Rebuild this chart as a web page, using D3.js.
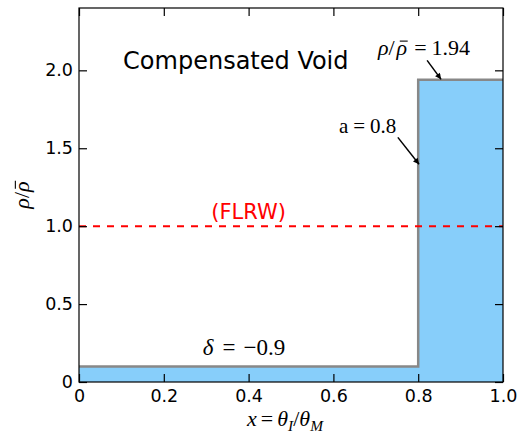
<!DOCTYPE html>
<html>
<head>
<meta charset="utf-8">
<script src="https://cdn.jsdelivr.net/npm/d3@7"></script>
<style>
  body { margin: 0; background: #fff; }
  text { font-family: "DejaVu Sans", sans-serif; }
  .math { font-family: "Liberation Serif", "DejaVu Serif", serif; }
</style>
</head>
<body>
<script>
const width = 521, height = 432;
const margin = {top: 8, right: 18, bottom: 50, left: 79};

// profile: density contrast per bin
const edges = [0, 0.8, 1.0];
const density = [0.1, 1.94];
const flrw = 1.0;
const xTicks = [0, 0.2, 0.4, 0.6, 0.8, 1.0];
const yTicks = [0, 0.5, 1.0, 1.5, 2.0];

const x = d3.scaleLinear().domain([0, 1]).range([margin.left, width - margin.right]);
const y = d3.scaleLinear().domain([0, 2.4]).range([height - margin.bottom, margin.top]);

const fmt = d => d === 0 ? "0" : d3.format(".1f")(d);

const svg = d3.select("body").append("svg")
    .attr("width", width).attr("height", height);

// step points
const pts = edges.map((e, i) => ({x: e, y: density[Math.min(i, density.length - 1)]}));

svg.append("path")
    .datum(pts)
    .attr("fill", "#87cefa")
    .attr("d", d3.area().curve(d3.curveStepAfter)
      .x(d => x(d.x)).y0(y(0)).y1(d => y(d.y)));

svg.append("path")
    .datum(pts)
    .attr("fill", "none")
    .attr("stroke", "#888")
    .attr("stroke-width", 2.5)
    .attr("d", d3.line().curve(d3.curveStepAfter).x(d => x(d.x)).y(d => y(d.y)));

// FLRW reference
svg.append("line")
    .attr("x1", x(0)).attr("x2", x(1))
    .attr("y1", y(flrw)).attr("y2", y(flrw))
    .attr("stroke", "red").attr("stroke-width", 2)
    .attr("stroke-dasharray", "7,7");

// axes (ticks inside, mirrored)
const tick = 8;
const xAxis = svg.append("g").attr("transform", `translate(0,${y(0)})`)
    .call(d3.axisBottom(x).tickValues(xTicks).tickFormat(fmt).tickSizeInner(-tick).tickSizeOuter(0).tickPadding(8));
const xTop = svg.append("g").attr("transform", `translate(0,${y(2.4)})`)
    .call(d3.axisTop(x).tickValues(xTicks).tickFormat("").tickSizeInner(-tick).tickSizeOuter(0));
const yAxis = svg.append("g").attr("transform", `translate(${x(0)},0)`)
    .call(d3.axisLeft(y).tickValues(yTicks).tickFormat(fmt).tickSizeInner(-tick).tickSizeOuter(0).tickPadding(6));
const yRight = svg.append("g").attr("transform", `translate(${x(1)},0)`)
    .call(d3.axisRight(y).tickValues(yTicks).tickFormat("").tickSizeInner(-tick).tickSizeOuter(0));

[xAxis, xTop, yAxis, yRight].forEach(g => {
  g.select(".domain").remove();
  g.selectAll(".tick line").attr("stroke", "#000").attr("stroke-width", 1.2);
  g.selectAll(".tick text").attr("font-size", 17.5).attr("fill", "#000")
    .attr("font-family", "DejaVu Sans");
});

svg.append("rect")
    .attr("x", x(0)).attr("y", y(2.4))
    .attr("width", x(1) - x(0)).attr("height", y(0) - y(2.4))
    .attr("fill", "none").attr("stroke", "#000").attr("stroke-width", 1.2);

// labels
svg.append("text")
    .attr("x", x(0.104)).attr("y", y(2.006))
    .attr("font-size", 24)
    .text("Compensated Void");

svg.append("text")
    .attr("x", x(0.40)).attr("y", y(1.045))
    .attr("text-anchor", "middle")
    .attr("font-size", 21).attr("fill", "red")
    .text("(FLRW)");

// math-like text: parts {t, i: italic, sub: subscript, bar: overbar, dx: extra gap}
function mathText(px, py, parts, size, anchor, rotate) {
  const g = svg.append("g")
      .attr("transform", `translate(${px},${py})` + (rotate ? ` rotate(${rotate})` : ""));
  const t = g.append("text").attr("class", "math")
      .attr("font-size", size)
      .attr("text-anchor", anchor || "start");
  const bars = [];
  let idx = 0;
  parts.forEach(p => {
    const s = t.append("tspan").text(p.t);
    if (p.dx) s.attr("dx", p.dx);
    if (p.i) s.attr("font-style", "italic");
    if (p.sub) s.attr("baseline-shift", "-30%").attr("font-size", size * 0.7);
    if (p.bar) bars.push(idx);
    idx += p.t.length;
  });
  bars.forEach(k => {
    const r = t.node().getExtentOfChar(k);
    g.append("line")
        .attr("x1", r.x + r.width * 0.3).attr("x2", r.x + r.width * 1.05)
        .attr("y1", -size * 0.62).attr("y2", -size * 0.62)
        .attr("stroke", "#000").attr("stroke-width", size * 0.05);
  });
  return g;
}

mathText(x(0.705), y(2.10),
  [{t: "ρ", i: 1}, {t: "/"}, {t: "ρ", i: 1, bar: 1, dx: 2}, {t: "=", dx: 7}, {t: "1.94", dx: 5}], 22);
mathText(x(0.613), y(1.596), [{t: "a"}, {t: "=", dx: 5}, {t: "0.8", dx: 5}], 21);
mathText(x(0.292), y(0.173), [{t: "δ", i: 1}, {t: "=", dx: 9}, {t: "\u22120.9", dx: 8}], 23);

mathText(285, 426,
  [{t: "x", i: 1}, {t: "=", dx: 4}, {t: "θ", i: 1, dx: 4}, {t: "I", i: 1, sub: 1}, {t: "/"}, {t: "θ", i: 1}, {t: "M", i: 1, sub: 1}],
  22, "middle");

mathText(29, (y(0) + y(2.4)) / 2, [{t: "ρ", i: 1}, {t: "/"}, {t: "ρ", i: 1, bar: 1}], 22, "middle", -90);

// arrows
svg.append("defs").append("marker")
    .attr("id", "head").attr("viewBox", "0 0 10 10")
    .attr("refX", 10).attr("refY", 5)
    .attr("markerWidth", 9).attr("markerHeight", 6)
    .attr("markerUnits", "userSpaceOnUse")
    .attr("orient", "auto")
  .append("path").attr("d", "M0,0L10,5L0,10z").attr("fill", "#000");

const arrows = [
  {from: [0.821, 2.064], to: [0.854, 1.942]},
  {from: [0.752, 1.57], to: [0.802, 1.397]}
];
svg.selectAll(".arrow").data(arrows).enter().append("line")
    .attr("x1", d => x(d.from[0])).attr("y1", d => y(d.from[1]))
    .attr("x2", d => x(d.to[0])).attr("y2", d => y(d.to[1]))
    .attr("stroke", "#000").attr("stroke-width", 1.5)
    .attr("marker-end", "url(#head)");
</script>
</body>
</html>
